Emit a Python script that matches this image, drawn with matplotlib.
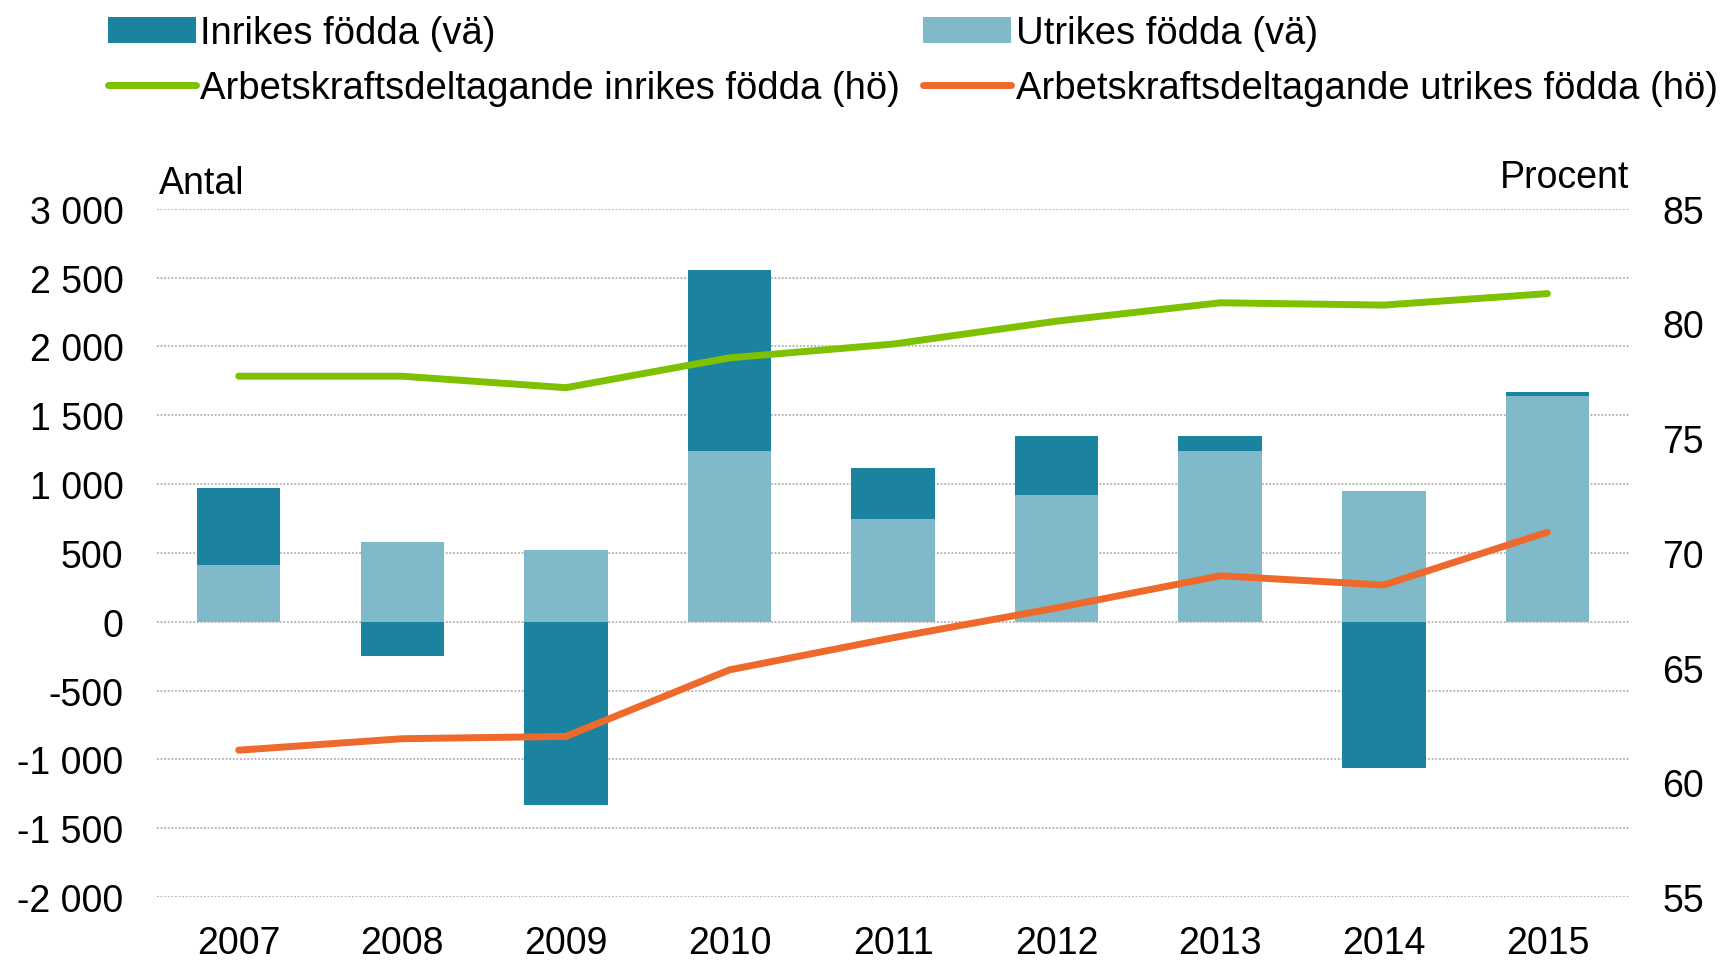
import numpy as np
import matplotlib
matplotlib.use("Agg")
import matplotlib.pyplot as plt

plt.rcParams['font.family'] = ['Liberation Sans', 'DejaVu Sans']

years = ['2007', '2008', '2009', '2010', '2011', '2012', '2013', '2014', '2015']
utrikes = [415, 580, 520, 1240, 745, 920, 1240, 950, 1640]
inrikes = [555, -250, -1335, 1315, 370, 430, 110, -1065, 30]
akd_inrikes = [77.7, 77.7, 77.2, 78.5, 79.1, 80.1, 80.9, 80.8, 81.3]
akd_utrikes = [61.4, 61.9, 62.0, 64.9, 66.3, 67.6, 69.0, 68.6, 70.9]

left_ticks = [-2000, -1500, -1000, -500, 0, 500, 1000, 1500, 2000, 2500, 3000]
left_labels = ['-2 000', '-1 500', '-1 000', '-500', '0', '500', '1 000', '1 500', '2 000', '2 500', '3 000']
right_ticks = [55, 60, 65, 70, 75, 80, 85]

c_dark = '#1b82a0'
c_light = '#80b9ca'
c_green = '#7dc100'
c_orange = '#ee6a2c'
fs = 27

fig = plt.figure(figsize=(17.24, 9.62), dpi=100)
ax = fig.add_axes([0.091, 0.0665, 0.854, 0.7155])

x = np.arange(len(years))
inr = np.array(inrikes)
utr = np.array(utrikes)
bottom = np.where(inr > 0, utr, 0)

b1 = ax.bar(x, utr, width=0.51, color=c_light, label='Utrikes födda (vä)', zorder=2)
b2 = ax.bar(x, inr, width=0.51, bottom=bottom, color=c_dark, label='Inrikes födda (vä)', zorder=2)

ax.set_xlim(-0.5, len(years) - 0.5)
ax.set_ylim(-2000, 3000)
ax.set_yticks(left_ticks)
ax.set_yticklabels(left_labels)
ax.set_xticks(x)
ax.set_xticklabels(years)
ax.tick_params(axis='y', length=0, pad=24, labelsize=fs)
ax.tick_params(axis='x', length=0, pad=20, labelsize=fs)
ax.grid(axis='y', color='#b0b0b0', linestyle=(0, (1, 1)), linewidth=1.3)
ax.set_axisbelow(True)
for s in ax.spines.values():
    s.set_visible(False)

ax2 = ax.twinx()
l1, = ax2.plot(x, akd_inrikes, color=c_green, lw=5, solid_capstyle='round',
               label='Arbetskraftsdeltagande inrikes födda (hö)', zorder=3)
l2, = ax2.plot(x, akd_utrikes, color=c_orange, lw=5, solid_capstyle='round',
               label='Arbetskraftsdeltagande utrikes födda (hö)', zorder=3)
ax2.set_ylim(55, 85)
ax2.set_yticks(right_ticks)
ax2.tick_params(axis='y', length=0, pad=24, labelsize=fs)
for s in ax2.spines.values():
    s.set_visible(False)

fig.text(0.092, 0.809, 'Antal', fontsize=fs, ha='left', va='center')
fig.text(0.945, 0.815, 'Procent', fontsize=fs, ha='right', va='center')

fig.legend([b2, l1, b1, l2],
           [b2.get_label(), l1.get_label(), b1.get_label(), l2.get_label()],
           ncol=2, loc='upper left', bbox_to_anchor=(0.056, 0.995),
           frameon=False, fontsize=27.5, handlelength=2.3, handletextpad=0.12,
           columnspacing=0.6, labelspacing=0.5, borderpad=0.3, borderaxespad=0)

fig.savefig('out.png', dpi=100)
